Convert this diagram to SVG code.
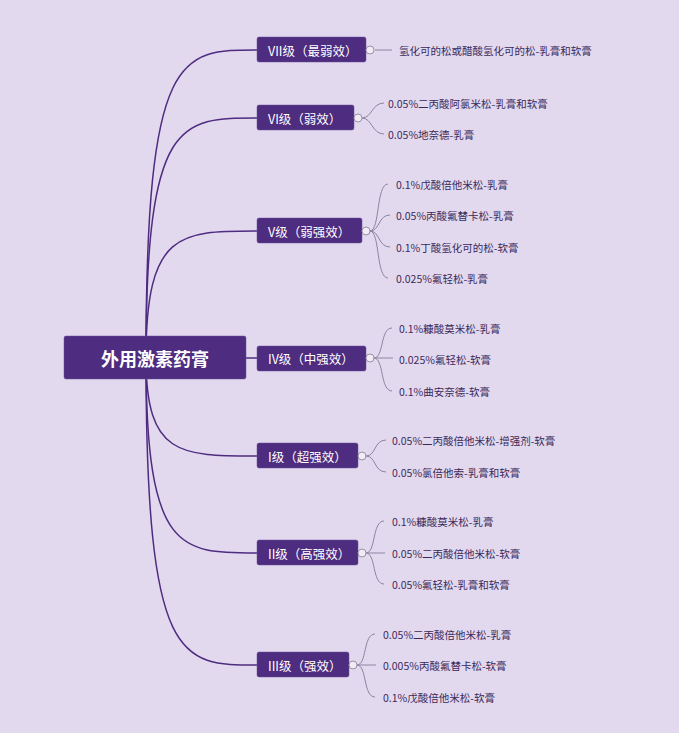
<svg xmlns="http://www.w3.org/2000/svg" width="679" height="733" viewBox="0 0 679 733">
<style>
.b{fill:#4e2c80;stroke:#6b5296;stroke-width:0.5}
.t{font-family:"Noto Sans CJK SC",sans-serif;font-size:12.5px;fill:#fff;dominant-baseline:central}
.r{font-family:"Noto Sans CJK SC",sans-serif;font-size:18px;font-weight:bold;fill:#fff;dominant-baseline:central}
.l{font-family:"Noto Sans CJK SC",sans-serif;font-size:10.5px;fill:#3a2a5a;dominant-baseline:central}
.m{fill:none;stroke:#4e2c80;stroke-width:1.5}
.s{fill:none;stroke:#8d84a0;stroke-width:1}
.c{fill:#f0ecf4;stroke:#9a90a8;stroke-width:1}
</style>
<rect width="679" height="733" fill="#e3d9ef"/>
<g id="connectors">
<path class="m" d="M146,358 C146,50 180,50 257,50"/>
<path class="m" d="M146,358 C146,118 180,118 257,118"/>
<path class="m" d="M146,358 C146,231 180,231 257,231"/>
<path class="m" d="M146,358 L257,358"/>
<path class="m" d="M146,358 C146,456 180,456 257,456"/>
<path class="m" d="M146,358 C146,553 180,553 257,553"/>
<path class="m" d="M146,358 C146,665 180,665 257,665"/>
<path class="s" d="M375,50 L392,50"/>
<path class="s" d="M362,118 C372,118 372,103 384,103 M362,118 C372,118 372,134 384,134"/>
<path class="s" d="M370,231 C380,231 376,184 388,184 M370,231 C380,231 378,215 390,215 M370,231 C380,231 378,247 390,247 M370,231 C380,231 376,278 388,278"/>
<path class="s" d="M374,358 C384,358 380,328 392,328 M374,358 L393,358 M374,358 C384,358 380,391 392,391"/>
<path class="s" d="M366,456 C376,456 374,440 386,440 M366,456 C376,456 374,472 386,472"/>
<path class="s" d="M366,553 C376,553 372,521 384,521 M366,553 L385,553 M366,553 C376,553 372,584 384,584"/>
<path class="s" d="M357,665 C367,665 363,634 375,634 M357,665 L376,665 M357,665 C367,665 363,697 375,697"/>
</g>
<g id="root"><rect class="b" x="64" y="336" width="182" height="43" rx="2"/><text class="r" x="155" y="358" text-anchor="middle">外用激素药膏</text></g>
<g id="n7"><rect class="b" x="257" y="37" width="109" height="25" rx="2"/><text class="t" x="268" y="50">VII级（最弱效）</text><circle class="c" cx="370" cy="50" r="4"/><text class="l" x="399" y="50">氢化可的松或醋酸氢化可的松-乳膏和软膏</text></g>
<g id="n6"><rect class="b" x="257" y="105" width="97" height="25" rx="2"/><text class="t" x="268" y="118">VI级（弱效）</text><circle class="c" cx="358" cy="118" r="4"/><text class="l" x="388" y="103">0.05%二丙酸阿氯米松-乳膏和软膏</text><text class="l" x="388" y="134">0.05%地奈德-乳膏</text></g>
<g id="n5"><rect class="b" x="257" y="218" width="105" height="25" rx="2"/><text class="t" x="268" y="231">V级（弱强效）</text><circle class="c" cx="366" cy="231" r="4"/><text class="l" x="396" y="184">0.1%戊酸倍他米松-乳膏</text><text class="l" x="396" y="215">0.05%丙酸氟替卡松-乳膏</text><text class="l" x="396" y="247">0.1%丁酸氢化可的松-软膏</text><text class="l" x="396" y="278">0.025%氟轻松-乳膏</text></g>
<g id="n4"><rect class="b" x="257" y="346" width="109" height="25" rx="2"/><text class="t" x="268" y="358">IV级（中强效）</text><circle class="c" cx="370" cy="358" r="4"/><text class="l" x="399" y="328">0.1%糠酸莫米松-乳膏</text><text class="l" x="399" y="359">0.025%氟轻松-软膏</text><text class="l" x="399" y="391">0.1%曲安奈德-软膏</text></g>
<g id="n1"><rect class="b" x="257" y="443" width="101" height="25" rx="2"/><text class="t" x="268" y="456">I级（超强效）</text><circle class="c" cx="362" cy="456" r="4"/><text class="l" x="392" y="440">0.05%二丙酸倍他米松-增强剂-软膏</text><text class="l" x="392" y="472">0.05%氯倍他索-乳膏和软膏</text></g>
<g id="n2"><rect class="b" x="257" y="540" width="101" height="25" rx="2"/><text class="t" x="268" y="553">II级（高强效）</text><circle class="c" cx="362" cy="553" r="4"/><text class="l" x="392" y="521">0.1%糠酸莫米松-乳膏</text><text class="l" x="392" y="553">0.05%二丙酸倍他米松-软膏</text><text class="l" x="392" y="584">0.05%氟轻松-乳膏和软膏</text></g>
<g id="n3"><rect class="b" x="257" y="652" width="92" height="25" rx="2"/><text class="t" x="268" y="665">III级（强效）</text><circle class="c" cx="353" cy="665" r="4"/><text class="l" x="383" y="634">0.05%二丙酸倍他米松-乳膏</text><text class="l" x="383" y="665">0.005%丙酸氟替卡松-软膏</text><text class="l" x="383" y="697">0.1%戊酸倍他米松-软膏</text></g>
</svg>
